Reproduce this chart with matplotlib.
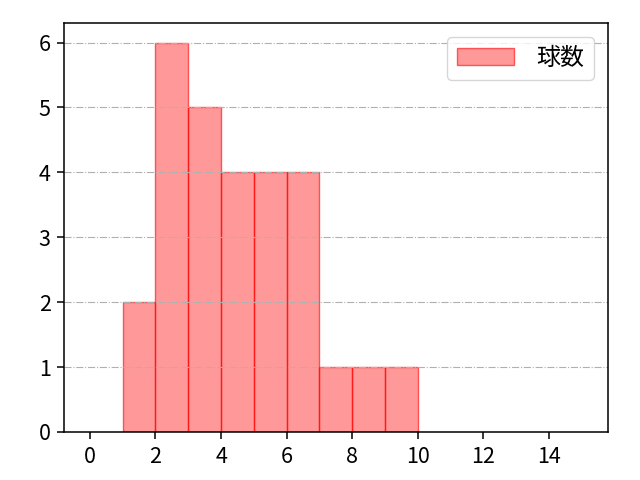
import matplotlib
matplotlib.use("Agg")
import matplotlib.pyplot as plt

plt.rcParams['font.family'] = ['Noto Sans CJK JP', 'DejaVu Sans']

bin_left = [1, 2, 3, 4, 5, 6, 7, 8, 9]
counts = [2, 6, 5, 4, 4, 4, 1, 1, 1]
xticks = [0, 2, 4, 6, 8, 10, 12, 14]

s = 1.38  # the reference looks scaled up from defaults

fig = plt.figure(figsize=(6.4, 4.8), dpi=100)
ax = fig.add_axes([0.1, 0.1, 0.85, 0.852])
ax.bar(bin_left, counts, width=1, align='edge', color=(1, 0, 0, 0.4),
       edgecolor=(1, 0, 0, 0.6), linewidth=1, label='球数')
ax.set_xlim(-0.79, 15.8)
ax.set_ylim(0, 6.3)
ax.set_xticks(xticks)
ax.set_yticks(range(7))
ax.tick_params(labelsize=15.5, length=3.5 * s, width=0.8 * s, pad=3.5 * s)
ax.tick_params(axis='x', pad=5.5)
for sp in ax.spines.values():
    sp.set_linewidth(0.8 * s)
ax.grid(axis='y', linestyle='-.', color='#b0b0b0', linewidth=0.8)
ax.legend(loc='upper right', fontsize=12.5 * s, handlelength=2.4,
          handletextpad=0.9, borderaxespad=0.6)
fig.savefig('out.png', dpi=100)
